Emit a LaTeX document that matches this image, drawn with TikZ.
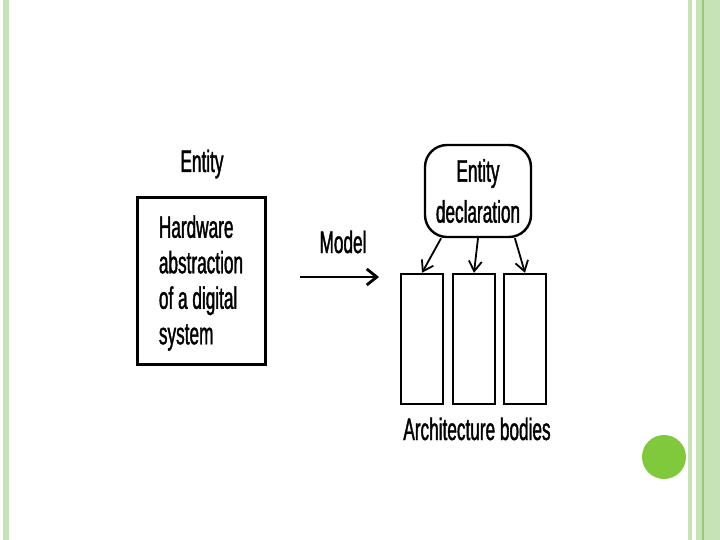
\documentclass[tikz,border=0pt]{standalone}
\usepackage{fontspec}
\setmainfont[FakeStretch=0.555, FakeBold=1.2]{Liberation Sans}
\usetikzlibrary{arrows.meta}
\definecolor{stripe}{RGB}{197,227,182}
\definecolor{stripedark}{RGB}{150,200,120}
\definecolor{dotgreen}{RGB}{128,200,60}
\tikzset{
  txt/.style={inner sep=0pt, font=\fontsize{31}{36}\selectfont},
  body/.style={draw, line width=2.4pt, minimum width=42pt, minimum height=130pt, inner sep=0pt},
  arr/.style={line width=1.8pt, -{Straight Barb[length=10pt,width=13pt]}}
}

\begin{document}
\begin{tikzpicture}[x=1pt, y=-1pt]

        \useasboundingbox (0, 0) rectangle (720, 540);
        \fill[white] (0, 0) rectangle (720, 540);

        % slide border stripes
        \fill[stripe] (3, 0) rectangle (9, 540);
        \fill[stripe] (688, 0) rectangle (692, 540);
        \fill[stripe] (696, 0) rectangle (720, 540);
        \fill[stripedark] (702, 0) rectangle (703.5, 540);
        \fill[dotgreen] (664, 457) circle (22);

        % entity on the left
        \node[txt, anchor=base] (ent) at (202, 172) {Entity};
        \node[draw, line width=3pt, minimum width=128pt, minimum height=167pt, inner sep=0pt] (hw) at (201, 281) {};
        \node[align=left, font=\fontsize{31}{35.5}\selectfont, inner sep=0pt, yshift=-2pt] (hwtext) at (hw.center)
              {Hardware\\abstraction\\of a digital\\system};

        % model arrow
        \node[txt, anchor=base] (model) at (343, 253) {Model};
        \coordinate (ms) at (300, 277);
        \coordinate (me) at (379, 277);
        \draw[line width=2.8pt, -{Straight Barb[length=10pt,width=16pt]}] (ms) -- (me);

        % entity declaration and architecture bodies
        \node[draw, line width=2.4pt, rounded corners=22pt, minimum width=106pt, minimum height=92pt,
              align=center, font=\fontsize{31}{41}\selectfont, inner sep=0pt] (decl) at (478, 191)
              {Entity\hspace{12pt}\\declaration};

        \foreach \n/\x in {b1/422, b2/474, b3/525} {
            \node[body] (\n) at (\x, 339) {};
        }

        \draw[arr] (decl.232) -- (b1.north);
        \draw[arr] (decl.south) -- (b2.north);
        \draw[arr] (decl.308) -- (b3.north);

        \node[txt, anchor=base] (arch) at (477, 440) {Architecture bodies};

\end{tikzpicture}
\end{document}
